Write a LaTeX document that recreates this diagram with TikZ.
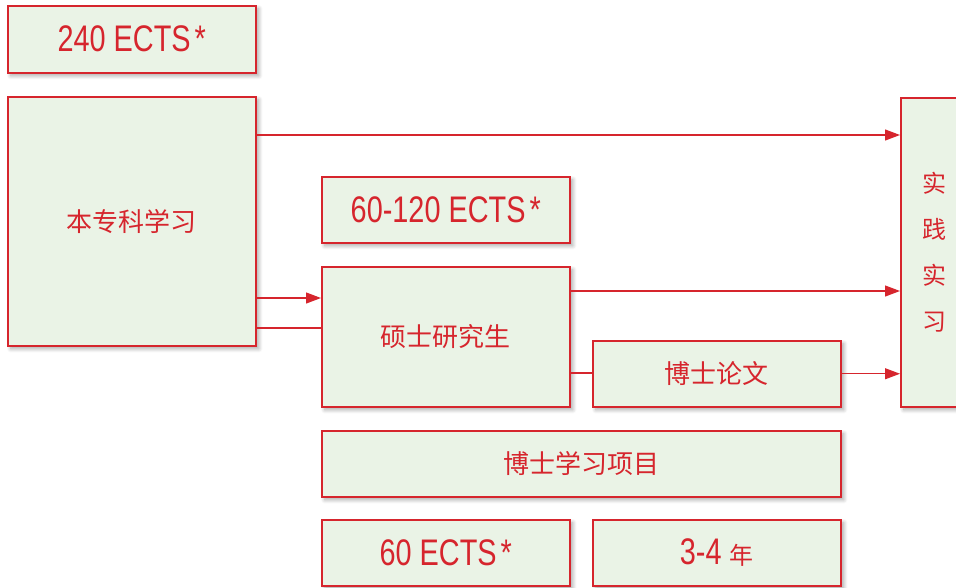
\documentclass[tikz,border=0pt]{standalone}
\usepackage{fontspec}
\setmainfont[FakeStretch=0.78]{Liberation Sans}
\newfontfamily\cjk{Noto Sans CJK SC}
\usetikzlibrary{arrows.meta,shadows.blur,calc}
\definecolor{cred}{HTML}{D6252D}
\definecolor{cfill}{HTML}{EAF3E6}
\newcommand{\myast}{\hspace{4pt}*}
\begin{document}
\begin{tikzpicture}[x=1pt,y=-1pt,
 box/.style={draw=cred, line width=1.5pt, fill=cfill, anchor=north west, inner sep=0pt, text=cred,
   blur shadow={shadow xshift=3pt, shadow yshift=-3pt, shadow opacity=35, shadow blur radius=4pt, shadow blur steps=8}},
 ects/.style={font=\fontsize{37}{40}\selectfont},
 zh/.style={font=\cjk\fontsize{26}{28}\selectfont},
 conn/.style={draw=cred, line width=1.2pt},
 arr/.style={conn, -{Triangle[length=15pt,width=11pt]}}]
\useasboundingbox (0,0) rectangle (956,587);
\begin{scope}
\clip (0,0) rectangle (956,587);
\node[box, ects, minimum width=248pt, minimum height=67pt] (A) at (7,5) {240 ECTS\myast};
\node[box, zh, minimum width=248pt, minimum height=249pt] (B) at (7,96) {本专科学习};
\node[box, ects, minimum width=248pt, minimum height=66pt] (C) at (321,176) {60-120 ECTS\myast};
\node[box, zh, minimum width=248pt, minimum height=140pt] (D) at (321,266) {硕士研究生};
\node[box, zh, minimum width=248pt, minimum height=66pt] (E) at (592,340) {博士论文};
\node[box, zh, minimum width=519pt, minimum height=66pt] (F) at (321,430) {博士学习项目};
\node[box, ects, minimum width=248pt, minimum height=66pt] (G) at (321,519) {60 ECTS\myast};
\node[box, ects, minimum width=248pt, minimum height=66pt] (H) at (592,519) {3-4 {\cjk\fontsize{24}{24}\selectfont 年}};
\node[box, font=\cjk\fontsize{24}{46}\selectfont, align=center, minimum width=68pt, minimum height=309pt] (R) at (900,97) {实\\践\\实\\习};
\end{scope}
\coordinate (b1) at ($(B.north east)+(0,39)$);
\coordinate (b2) at ($(B.north east)+(0,202)$);
\coordinate (b3) at ($(B.north east)+(0,232)$);
\coordinate (d1) at ($(D.north east)+(0,25)$);
\coordinate (d2) at ($(D.north east)+(0,107)$);
\draw[arr] (b1) -- (b1 -| R.west);
\draw[arr] (b2) -- (b2 -| D.west);
\draw[conn] (b3) -- (b3 -| D.west);
\draw[arr] (d1) -- (d1 -| R.west);
\draw[conn] (d2) -- (d2 -| E.west);
\draw[arr] (E.east) -- (E.east -| R.west);
\end{tikzpicture}
\end{document}
